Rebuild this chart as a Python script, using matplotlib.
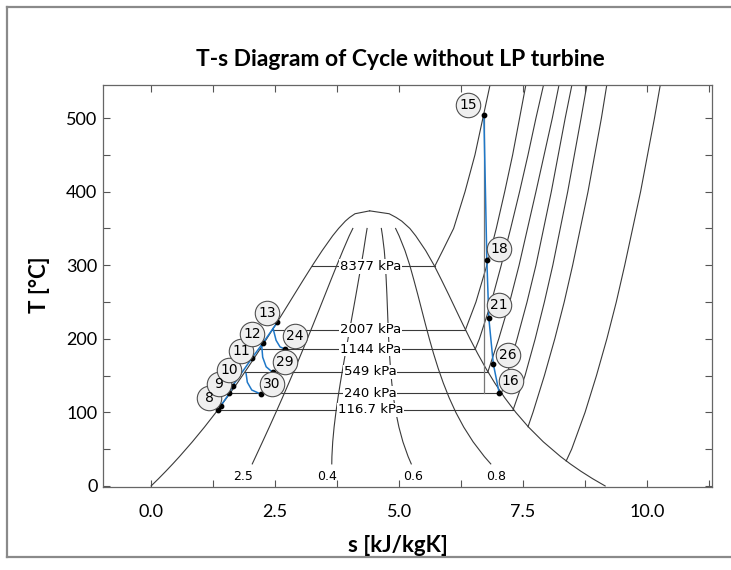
import matplotlib
matplotlib.use("Agg")
import matplotlib.pyplot as plt
from matplotlib.lines import Line2D

plt.rcParams['font.family'] = ['Lato', 'DejaVu Sans']

# saturation dome of water (T in C, s in kJ/kgK)
sat_T = [0.01, 10, 20, 30, 40, 60, 80, 100, 120, 140, 160, 180, 200, 220,
         240, 260, 280, 300, 320, 340, 350, 360, 365, 370, 373.95]
sat_sf = [0.0, 0.1511, 0.2965, 0.4368, 0.5724, 0.8313, 1.0756, 1.3072, 1.5279,
          1.7392, 1.9426, 2.1392, 2.3305, 2.5177, 2.7020, 2.8849, 3.0685,
          3.2552, 3.4500, 3.6601, 3.7800, 3.9167, 4.0026, 4.1112, 4.4070]
sat_sg = [9.1556, 8.8999, 8.6661, 8.4520, 8.2556, 7.9082, 7.6111, 7.3541, 7.1291,
          6.9293, 6.7491, 6.5840, 6.4302, 6.2840, 6.1423, 6.0010, 5.8556,
          5.7059, 5.5362, 5.3356, 5.2177, 5.0536, 4.9398, 4.8012, 4.4070]

# constant quality lines
qualities = [0.2, 0.4, 0.6, 0.8]
quality_labels = ['2.5', '0.4', '0.6', '0.8']
quality_label_s = [1.85, 3.55, 5.28, 6.96]

# isobars inside the dome
isobar_labels = ['8377 kPa', '2007 kPa', '1144 kPa', '549 kPa', '240 kPa', '116.7 kPa']
isobar_Tsat = [298.4, 212.4, 186.1, 155.2, 126.1, 103.6]
isobar_sf = [3.240, 2.447, 2.198, 1.894, 1.593, 1.348]
isobar_sg = [5.718, 6.339, 6.536, 6.791, 7.066, 7.300]

# isobars in the superheated region
vapor_T = [
    [298.4, 320, 350, 400, 450, 500, 550],
    [212.4, 250, 300, 350, 400, 450, 500, 550],
    [186.1, 200, 250, 300, 350, 400, 450, 500, 550],
    [155.2, 200, 250, 300, 400, 500, 550],
    [126.1, 150, 200, 250, 300, 400, 500, 550],
    [103.6, 150, 200, 250, 300, 400, 500, 550],
    [80.5, 100, 150, 200, 250, 300, 400, 500, 550],
    [34, 50, 100, 150, 200, 250, 300, 400, 500, 550],
]
vapor_s = [
    [5.718, 5.88, 6.10, 6.33, 6.53, 6.69, 6.85],
    [6.339, 6.55, 6.77, 6.96, 7.13, 7.29, 7.43, 7.57],
    [6.536, 6.62, 6.86, 7.06, 7.25, 7.43, 7.60, 7.76, 7.93],
    [6.791, 7.01, 7.23, 7.42, 7.76, 8.09, 8.24],
    [7.066, 7.17, 7.38, 7.58, 7.76, 8.07, 8.35, 8.50],
    [7.300, 7.54, 7.745, 7.93, 8.10, 8.40, 8.67, 8.80],
    [7.600, 7.70, 7.93, 8.14, 8.33, 8.50, 8.81, 9.08, 9.20],
    [8.370, 8.48, 8.75, 8.98, 9.19, 9.38, 9.55, 9.87, 10.15, 10.28],
]

# cycle state points
liquid_s = [1.357, 1.405, 1.579, 1.647, 2.03, 2.25, 2.546]
liquid_T = [103.3, 109.1, 126.0, 136.3, 173.5, 193.9, 222.4]
turbine_s = [6.71, 6.77, 6.81, 6.90, 7.02]
turbine_T = [504, 307, 228, 166, 126]
drain_s = [[2.46, 2.52, 2.60, 2.70], [2.23, 2.25, 2.32, 2.45], [1.915, 1.94, 2.03, 2.21]]
drain_T = [[214, 198, 189, 186.1], [191, 175, 162, 154.5], [153, 141, 130.4, 125]]

state_names = ['8', '9', '10', '11', '12', '13', '24', '29', '30', '15', '18', '21', '26', '16']
state_label_s = [1.17, 1.36, 1.57, 1.81, 2.03, 2.34, 2.90, 2.70, 2.43, 6.40, 7.02, 7.02, 7.20, 7.25]
state_label_T = [119, 139, 157, 184, 206, 235, 204, 169, 138, 518, 322, 246, 178, 143]

line_c = '#3a3a3a'
blue = '#1f78c8'

fig = plt.figure(figsize=(7.31, 5.70), dpi=100)
ax = fig.add_axes([103 / 731, 1 - 487 / 570, 609 / 731, 402 / 570])

# dome
ax.plot(sat_sf, sat_T, color=line_c, lw=0.8)
ax.plot(sat_sg, sat_T, color=line_c, lw=0.8)

# quality lines
for x, lab, ls in zip(qualities, quality_labels, quality_label_s):
    pts = [(f + x * (g - f), t) for f, g, t in zip(sat_sf, sat_sg, sat_T) if 30 <= t <= 350]
    ax.plot([p[0] for p in pts], [p[1] for p in pts], color=line_c, lw=0.8)
    ax.text(ls, 13, lab, ha='center', va='center', fontsize=9, family='DejaVu Sans')

# isobars
for lab, t, f, g in zip(isobar_labels, isobar_Tsat, isobar_sf, isobar_sg):
    ax.plot([f, g], [t, t], color=line_c, lw=0.8)
    ax.text(4.42, t, lab, ha='center', va='center', fontsize=9.5, family='DejaVu Sans',
            bbox=dict(boxstyle='square,pad=0.05', fc='white', ec='none'))
for ts, ss in zip(vapor_T, vapor_s):
    ax.plot(ss, ts, color=line_c, lw=0.8)

# isentropic expansion reference
ax.plot([turbine_s[0], turbine_s[0]], [turbine_T[0], turbine_T[-1]], color='#777777', lw=0.9)

# cycle
ax.plot(liquid_s, liquid_T, color=blue, lw=1.1, zorder=3)
ax.plot(turbine_s, turbine_T, color=blue, lw=1.1, zorder=3)
for ds, dt in zip(drain_s, drain_T):
    ax.plot(ds, dt, color=blue, lw=1.1, zorder=3)

dots_s = liquid_s + [d[-1] for d in drain_s] + turbine_s
dots_T = liquid_T + [d[-1] for d in drain_T] + turbine_T
ax.scatter(dots_s, dots_T, s=10, color='black', zorder=4)

ax.scatter(state_label_s, state_label_T, s=310, facecolor='#efefef',
           edgecolor='#505050', linewidth=0.8, zorder=5)
for n, ls, lt in zip(state_names, state_label_s, state_label_T):
    ax.text(ls, lt, n, ha='center', va='center', fontsize=10,
            family='DejaVu Sans', zorder=6)

ax.set_xlim(-0.97, 11.31)
ax.set_ylim(-1.4, 545)
ax.set_xticks([0, 2.5, 5, 7.5, 10])
ax.set_xticklabels(['0.0', '2.5', '5.0', '7.5', '10.0'])
ax.set_xticks([1.25, 3.75, 6.25, 8.75, 11.25], minor=True)
ax.set_yticks([0, 100, 200, 300, 400, 500])
ax.set_yticks([50, 150, 250, 350, 450], minor=True)
ax.tick_params(which='both', direction='in', top=True, right=True,
               length=5, width=0.8, color='#555555', labelsize=13)
ax.tick_params(axis='x', pad=12)
ax.tick_params(axis='y', pad=4)
for sp in ax.spines.values():
    sp.set_color('#666666')
    sp.set_linewidth(0.9)

fig.text(400 / 731, 1 - 60 / 570, 'T-s Diagram of Cycle without LP turbine',
         ha='center', va='center', fontsize=16.5, fontweight='bold')
fig.text(398 / 731, 1 - 545 / 570, 's [kJ/kgK]', ha='center', va='center',
         fontsize=16, fontweight='bold')
fig.text(40 / 731, 1 - 285 / 570, 'T [°C]', ha='center', va='center',
         fontsize=16, fontweight='bold', rotation=90)

# outer frame of the exported picture
bc = '#8a8a8a'
fig.add_artist(Line2D([7 / 731, 7 / 731], [1 - 557 / 570, 1 - 7 / 570], color=bc, lw=1.6))
fig.add_artist(Line2D([7 / 731, 1], [1 - 7 / 570, 1 - 7 / 570], color=bc, lw=1.6))
fig.add_artist(Line2D([7 / 731, 1], [1 - 557 / 570, 1 - 557 / 570], color=bc, lw=1.6))

fig.savefig('out.png', dpi=100)
